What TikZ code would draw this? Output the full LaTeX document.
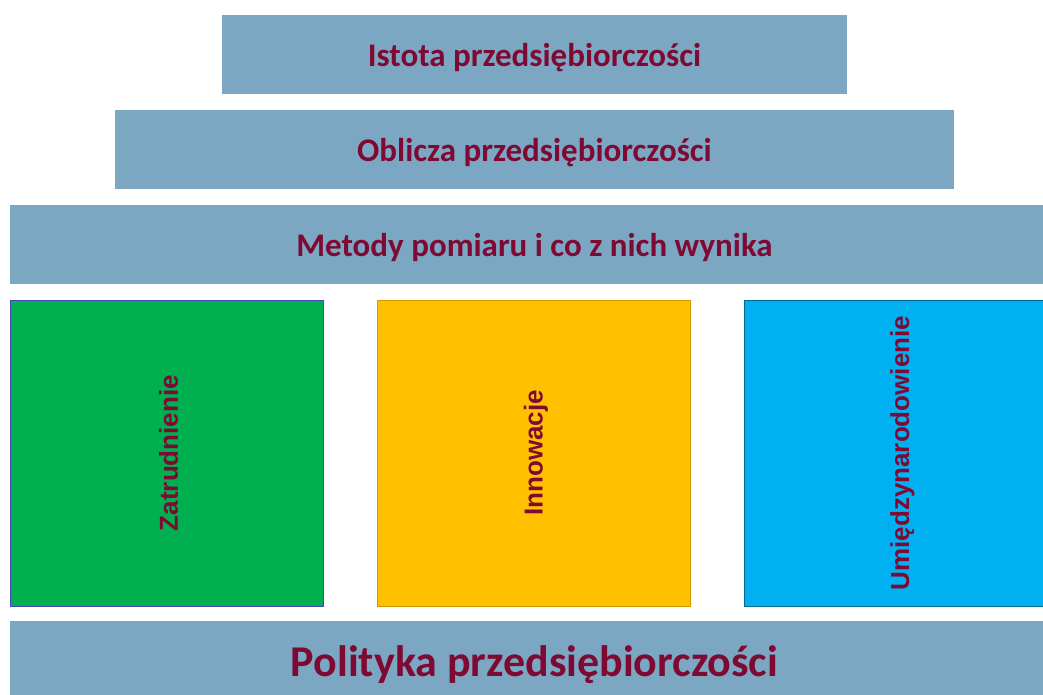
\documentclass[tikz,border=0pt]{standalone}
\usepackage{fontspec}
\setmainfont{Carlito}
\newfontfamily\arialfont{Liberation Sans}
\usetikzlibrary{positioning}
\definecolor{barblue}{HTML}{7BA7C3}
\definecolor{textred}{HTML}{7E0A33}
\definecolor{tilegreen}{HTML}{00AF50}
\definecolor{tileyellow}{HTML}{FFC000}
\definecolor{tileblue}{HTML}{00B0F0}

\begin{document}
\begin{tikzpicture}
		[x=1pt,y=-1pt,
		bar/.style ={rectangle, fill=barblue, inner sep=0pt, minimum height=79pt},
		barlabel/.style ={text=textred, inner sep=0pt, font=\fontsize{33}{38}\selectfont\bfseries},
		biglabel/.style ={barlabel, font=\fontsize{44}{50}\selectfont\bfseries},
		tile/.style ={rectangle, thick, inner sep=0pt, minimum width=313pt, minimum height=306pt},
		tilelabel/.style ={rotate=90, text=textred, font=\arialfont\fontsize{26}{30}\selectfont\bfseries},
		green-tile/.style = {tile, fill=tilegreen, draw=blue!45!gray},
		yellow-tile/.style = {tile, fill=tileyellow, draw=tileyellow!80!black},
		blue-tile/.style = {tile, fill=tileblue, draw=tileblue!60!black},
		]
		\useasboundingbox (0,0) rectangle (1043,695);

		\draw (534.5,54.5) node[bar, minimum width=625pt] (Istota) {};
		\draw (534.5,149.5) node[bar, minimum width=839pt] (Oblicza) {};
		\draw (534.5,244.5) node[bar, minimum width=1049pt] (Metody) {};
		\draw (534.5,660.5) node[bar, minimum width=1049pt] (Polityka) {};

		\node[barlabel] at ([yshift=-3pt]Istota) {Istota przedsiębiorczości};
		\node[barlabel] at ([yshift=-3pt]Oblicza) {Oblicza przedsiębiorczości};
		\node[barlabel] at ([yshift=-3pt]Metody) {Metody pomiaru i co z nich wynika};
		\node[biglabel] at ([yshift=-4pt]Polityka) {Polityka przedsiębiorczości};

		\draw (166.5,453) node[green-tile] (Zatrudnienie) {};
		\draw (534,453) node[yellow-tile] (Innowacje) {};
		\draw (900.5,453) node[blue-tile] (Umiedzy) {};

		\node[tilelabel] at ([xshift=2pt]Zatrudnienie) {Zatrudnienie};
		\node[tilelabel] at ([xshift=2pt]Innowacje) {Innowacje};
		\node[tilelabel] at ([xshift=2pt]Umiedzy) {Umiędzynarodowienie};
	\end{tikzpicture}
\end{document}
